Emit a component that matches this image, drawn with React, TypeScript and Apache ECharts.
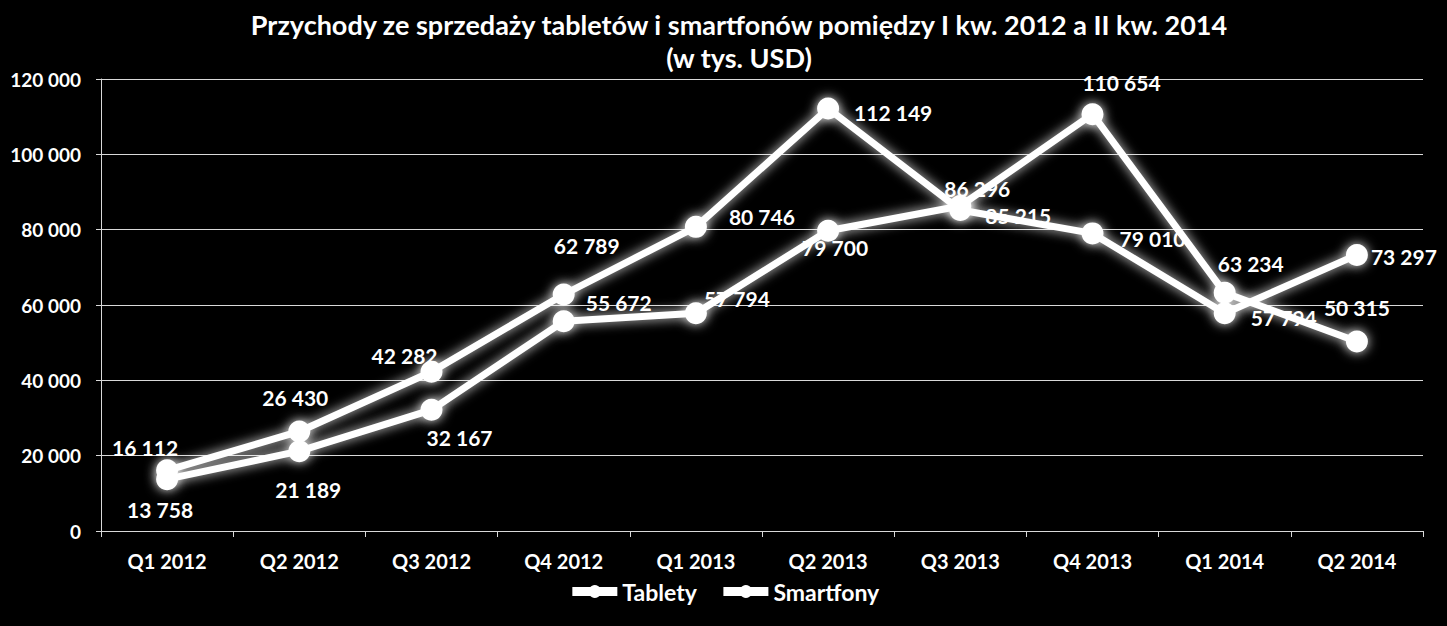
import React, { useEffect, useRef } from "react";
import * as echarts from "echarts";

const categories = ["Q1 2012", "Q2 2012", "Q3 2012", "Q4 2012", "Q1 2013", "Q2 2013", "Q3 2013", "Q4 2013", "Q1 2014", "Q2 2014"];
const tablety = [16112, 26430, 42282, 62789, 80746, 112149, 85215, 79010, 57794, 73297];
const smartfony = [13758, 21189, 32167, 55672, 57794, 79700, 86296, 110654, 63234, 50315];

const tabletyLabelPos = ["top", "top", "top", "top", "right", "right", "right", "right", "right", "right"];
const tabletyLabelOffset = [[-22, 4], [-4, -7], [-27, 10], [23, -22], [17, -10], [10, 4], [9, 5], [11, 5], [10, 4], [-2, 2]];
const smartfonyLabelPos = ["bottom", "bottom", "bottom", "right", "right", "bottom", "top", "top", "top", "top"];
const smartfonyLabelOffset = [[-7, 4], [9, 12], [28, 1], [6, -19], [-8, -15], [7, -10], [17, 9], [29, -5], [26, -3], [0, -7]];

const FONT = "Lato, 'Open Sans', sans-serif";
const fmt = (v: number) => String(v).replace(/\B(?=(\d{3})+(?!\d))/g, " ");

function buildData(values: number[], pos: string[], off: number[][]) {
  return values.map((v, i) => ({
    value: v,
    label: { position: pos[i], offset: off[i] },
  }));
}

export default function App() {
  const ref = useRef<HTMLDivElement>(null);
  useEffect(() => {
    if (!ref.current) return;
    const chart = echarts.init(ref.current, null, { renderer: "svg" });
    const seriesCommon = {
      type: "line",
      symbol: "circle",
      symbolSize: 22,
      lineStyle: { color: "#fff", width: 7, shadowColor: "rgba(255,255,255,0.9)", shadowBlur: 12 },
      itemStyle: { color: "#fff", shadowColor: "rgba(255,255,255,0.9)", shadowBlur: 12 },
      label: {
        show: true,
        color: "#fff",
        fontFamily: FONT,
        fontWeight: "bold",
        fontSize: 21,
        formatter: (p: any) => fmt(p.value),
      },
      emphasis: { disabled: true },
    };
    chart.setOption({
      animation: false,
      backgroundColor: "#000",
      title: {
        text: "Przychody ze sprzedaży tabletów i smartfonów pomiędzy I kw. 2012 a II kw. 2014\n(w tys. USD)",
        left: 734,
        top: 3,
        textAlign: "center",
        textStyle: { color: "#fff", fontFamily: FONT, fontWeight: "bold", fontSize: 27, lineHeight: 33, align: "center" },
      },
      legend: {
        top: 575,
        left: "center",
        itemWidth: 45,
        itemHeight: 16,
        itemGap: 22,
        lineStyle: { width: 9, shadowBlur: 0 },
        itemStyle: { shadowBlur: 0 },
        textStyle: { color: "#fff", fontFamily: FONT, fontWeight: "bold", fontSize: 23 },
        data: ["Tablety", "Smartfony"],
      },
      grid: { left: 101, right: 24, top: 79, bottom: 95, containLabel: false },
      xAxis: {
        type: "category",
        data: categories,
        boundaryGap: true,
        axisLine: { lineStyle: { color: "#d9d9d9", width: 1 } },
        axisTick: { show: true, length: 6, lineStyle: { color: "#d9d9d9" } },
        axisLabel: { color: "#fff", fontFamily: FONT, fontWeight: "bold", fontSize: 20, margin: 20 },
        splitLine: { show: false },
      },
      yAxis: {
        type: "value",
        min: 0,
        max: 120000,
        interval: 20000,
        axisLine: { show: true, lineStyle: { color: "#d9d9d9", width: 1 } },
        axisTick: { show: true, length: 5, lineStyle: { color: "#d9d9d9" } },
        axisLabel: { color: "#fff", fontFamily: FONT, fontWeight: "bold", fontSize: 19, margin: 20, formatter: (v: number) => fmt(v) },
        splitLine: { show: true, lineStyle: { color: "#d9d9d9", width: 1 } },
      },
      series: [
        { ...seriesCommon, name: "Tablety", data: buildData(tablety, tabletyLabelPos, tabletyLabelOffset) },
        { ...seriesCommon, name: "Smartfony", data: buildData(smartfony, smartfonyLabelPos, smartfonyLabelOffset) },
      ],
    });
    return () => chart.dispose();
  }, []);
  return <div ref={ref} style={{ position: "absolute", left: 0, top: 0, width: 1447, height: 626 }} />;
}
